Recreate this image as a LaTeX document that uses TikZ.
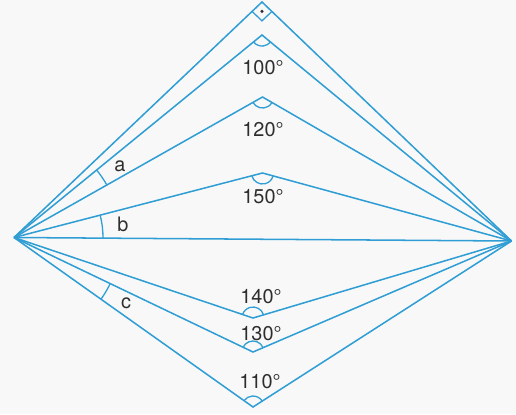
\documentclass[tikz,border=0pt]{standalone}
\usepackage{fontspec}
\setsansfont{TeX Gyre Heros}
\usetikzlibrary{angles,calc}
\definecolor{lineblue}{RGB}{48,158,212}
\definecolor{paper}{RGB}{248,248,248}
\begin{document}
\begin{tikzpicture}[x=0.03cm,y=-0.03cm,line width=1.3pt,
  deg/.style={font=\sffamily\fontsize{17}{20}\selectfont,text=black!82},
  angarc/.style={draw=lineblue,line width=1.1pt}]
\fill[paper] (0,0) rectangle (516,414);\useasboundingbox (0,0) rectangle (516,414);
\coordinate (P) at (14,237.5);\coordinate (Q) at (511.5,241);
\coordinate (v90) at (262,2);\coordinate (v100) at (262,35);\coordinate (v120) at (262.5,97);\coordinate (v150) at (262.5,173);
\coordinate (v140) at (253,318);\coordinate (v130) at (253,352);\coordinate (v110) at (253,407);
\draw[lineblue] (P)--(Q);
\foreach \v in {v90,v100,v120,v150,v140,v130,v110} \draw[lineblue,line join=miter] (P)--(\v)--(Q);
% right angle at the top
\coordinate (s1) at ($(v90)!0.41cm!(P)$);\coordinate (s2) at ($(v90)!0.41cm!(Q)$);
\draw[lineblue,line width=1.1pt] (s1)--($(s1)+(s2)-(v90)$)--(s2);
\fill[black!82] ($(s1)!0.5!(s2)$) circle (1.7);
\foreach \v in {v100,v120,v150} \pic[angarc,angle radius=0.33cm] {angle=P--\v--Q};
\foreach \v in {v140,v130,v110} \pic[angarc,angle radius=0.33cm] {angle=Q--\v--P};
\pic[angarc,angle radius=3.2cm] {angle=v120--P--v100};
\pic[angarc,angle radius=2.67cm] {angle=Q--P--v150};
\pic[angarc,angle radius=3.2cm] {angle=v110--P--v130};
\node[deg] (l100) at (263,68) {100°};\node[deg] (l120) at (263,130) {120°};\node[deg] (l150) at (263,197) {150°};
\node[deg] (l140) at (261,297) {140°};\node[deg] (l130) at (261,334) {130°};\node[deg] (l110) at (260,382) {110°};
\node[deg] (la) at (120,166) {a};\node[deg] (lb) at (123,224) {b};\node[deg] (lc) at (126,303) {c};
\end{tikzpicture}
\end{document}
